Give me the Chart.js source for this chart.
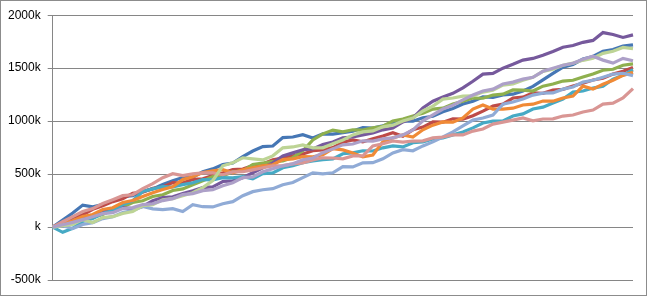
<!DOCTYPE html>
<html>
<head>
<meta charset="utf-8">
<script src="https://cdn.jsdelivr.net/npm/chart.js@4"></script>
<style>
html,body{margin:0;padding:0;background:#fff;}
#wrap{position:relative;width:647px;height:296px;box-sizing:border-box;border:1px solid #8c8c8c;}
canvas{display:block;}
</style>
</head>
<body>
<div id="wrap"><canvas id="c" width="645" height="294"></canvas></div>
<script>
// Values in thousands (k)
const categories = Array.from({length: 59}, (_, i) => String(i + 1));
const yTicks = [-500, 0, 500, 1000, 1500, 2000];

const seriesBlue = [0,66,132,207,190,212,248,288,296,335,360,402,436,468,472,522,549,590,604,665,718,760,765,845,850,872,840,880,878,890,906,938,934,955,980,1002,999,1032,1046,1088,1120,1162,1188,1228,1225,1248,1254,1285,1328,1390,1450,1510,1535,1586,1610,1660,1676,1708,1720];
const seriesRed = [0,40,90,115,168,200,240,268,318,330,365,378,420,415,450,455,486,510,542,548,580,596,636,652,672,690,720,728,750,800,822,804,834,860,890,858,918,944,992,990,1022,1018,1050,1094,1142,1160,1218,1226,1266,1262,1294,1300,1332,1358,1388,1404,1444,1470,1507];
const seriesGreen = [0,25,52,80,92,118,165,190,232,248,288,305,345,360,400,436,476,482,522,530,590,605,618,624,655,720,822,880,915,898,918,915,936,952,1002,1020,1048,1075,1114,1122,1162,1188,1218,1216,1246,1255,1294,1292,1284,1330,1350,1378,1386,1416,1444,1480,1490,1528,1540];
const seriesPurple = [0,30,60,90,108,146,155,184,172,194,248,278,286,316,342,372,380,430,436,466,512,560,606,672,700,730,738,778,802,842,850,870,888,918,935,992,1028,1124,1188,1228,1262,1314,1376,1444,1450,1500,1536,1576,1592,1622,1658,1698,1714,1744,1762,1836,1818,1790,1814];
const seriesAqua = [0,-50,-12,52,80,128,155,212,248,335,360,382,378,400,418,448,446,466,464,476,455,504,512,560,578,608,624,636,644,692,700,720,718,748,766,756,796,804,832,842,870,898,936,982,1000,1002,1048,1068,1114,1132,1172,1208,1274,1284,1312,1330,1396,1434,1485];
const seriesOrange = [0,32,60,100,118,166,182,232,250,288,324,354,380,448,474,514,530,542,512,540,560,578,588,636,644,664,662,682,740,728,700,662,680,804,842,870,850,918,962,992,990,1030,1114,1152,1114,1114,1122,1152,1160,1190,1188,1218,1236,1330,1302,1348,1386,1432,1460];
const seriesLightBlue = [0,12,-14,24,42,80,98,136,156,194,172,164,174,146,210,192,190,220,240,296,334,352,362,400,420,466,512,502,512,570,568,606,608,644,700,730,720,766,804,850,898,954,1010,1030,1058,1160,1180,1208,1246,1264,1266,1302,1322,1368,1386,1414,1444,1452,1430];
const seriesLightRed = [0,50,98,146,174,222,258,296,305,362,410,466,504,486,502,512,512,494,520,522,540,560,578,580,596,606,634,654,652,644,672,672,766,786,812,802,812,814,842,850,870,870,906,926,972,990,1010,1030,1002,1020,1022,1048,1058,1086,1104,1160,1170,1218,1307];
const seriesLightGreen = [0,12,24,70,42,90,98,128,146,202,212,258,268,296,324,372,438,578,606,654,644,634,672,748,756,776,748,748,786,822,870,898,908,946,962,1002,1030,1096,1142,1208,1218,1236,1238,1274,1292,1340,1350,1386,1414,1470,1490,1528,1548,1574,1594,1640,1660,1696,1685];
const seriesLightPurple = [0,22,44,70,98,126,136,174,184,212,220,250,268,306,316,344,352,390,418,466,474,522,550,578,598,636,652,702,738,776,784,814,812,832,842,870,916,1002,1058,1114,1150,1200,1246,1284,1302,1350,1368,1396,1414,1470,1500,1528,1546,1584,1612,1576,1548,1592,1570];

const allSeries = [seriesBlue, seriesRed, seriesGreen, seriesPurple, seriesAqua, seriesOrange, seriesLightBlue, seriesLightRed, seriesLightGreen, seriesLightPurple];
const colors = ['#4677B5','#BE4B48','#8FB04E','#76599C','#46AAC5','#F08A36','#90ABD6','#D99694','#BDD495','#ADA0C8'];

const datasets = allSeries.map((d, i) => ({
  data: d,
  borderColor: colors[i],
  backgroundColor: colors[i],
  borderWidth: 3.2,
  pointRadius: 0,
  tension: 0,
  fill: false,
  order: allSeries.length - i
}));

new Chart(document.getElementById('c'), {
  type: 'line',
  data: { labels: categories, datasets },
  options: {
    responsive: false,
    animation: false,
    events: [],
    layout: { padding: { top: 13, bottom: 15, left: 0, right: 13 } },
    plugins: { legend: { display: false }, tooltip: { enabled: false } },
    scales: {
      x: { display: false, offset: false },
      y: {
        min: -500, max: 2000,
        afterBuildTicks: (axis) => { axis.ticks = yTicks.map(v => ({ value: v })); },
        border: { display: true, color: '#868686', width: 1 },
        grid: { color: '#868686', lineWidth: 1, tickLength: 5, drawTicks: true },
        ticks: {
          padding: 7,
          color: '#000',
          font: { family: 'Liberation Sans, Arial, sans-serif', size: 12 },
          callback: (v) => (v === 0 ? 'k' : v + 'k')
        }
      }
    }
  }
});
</script>
</body>
</html>
